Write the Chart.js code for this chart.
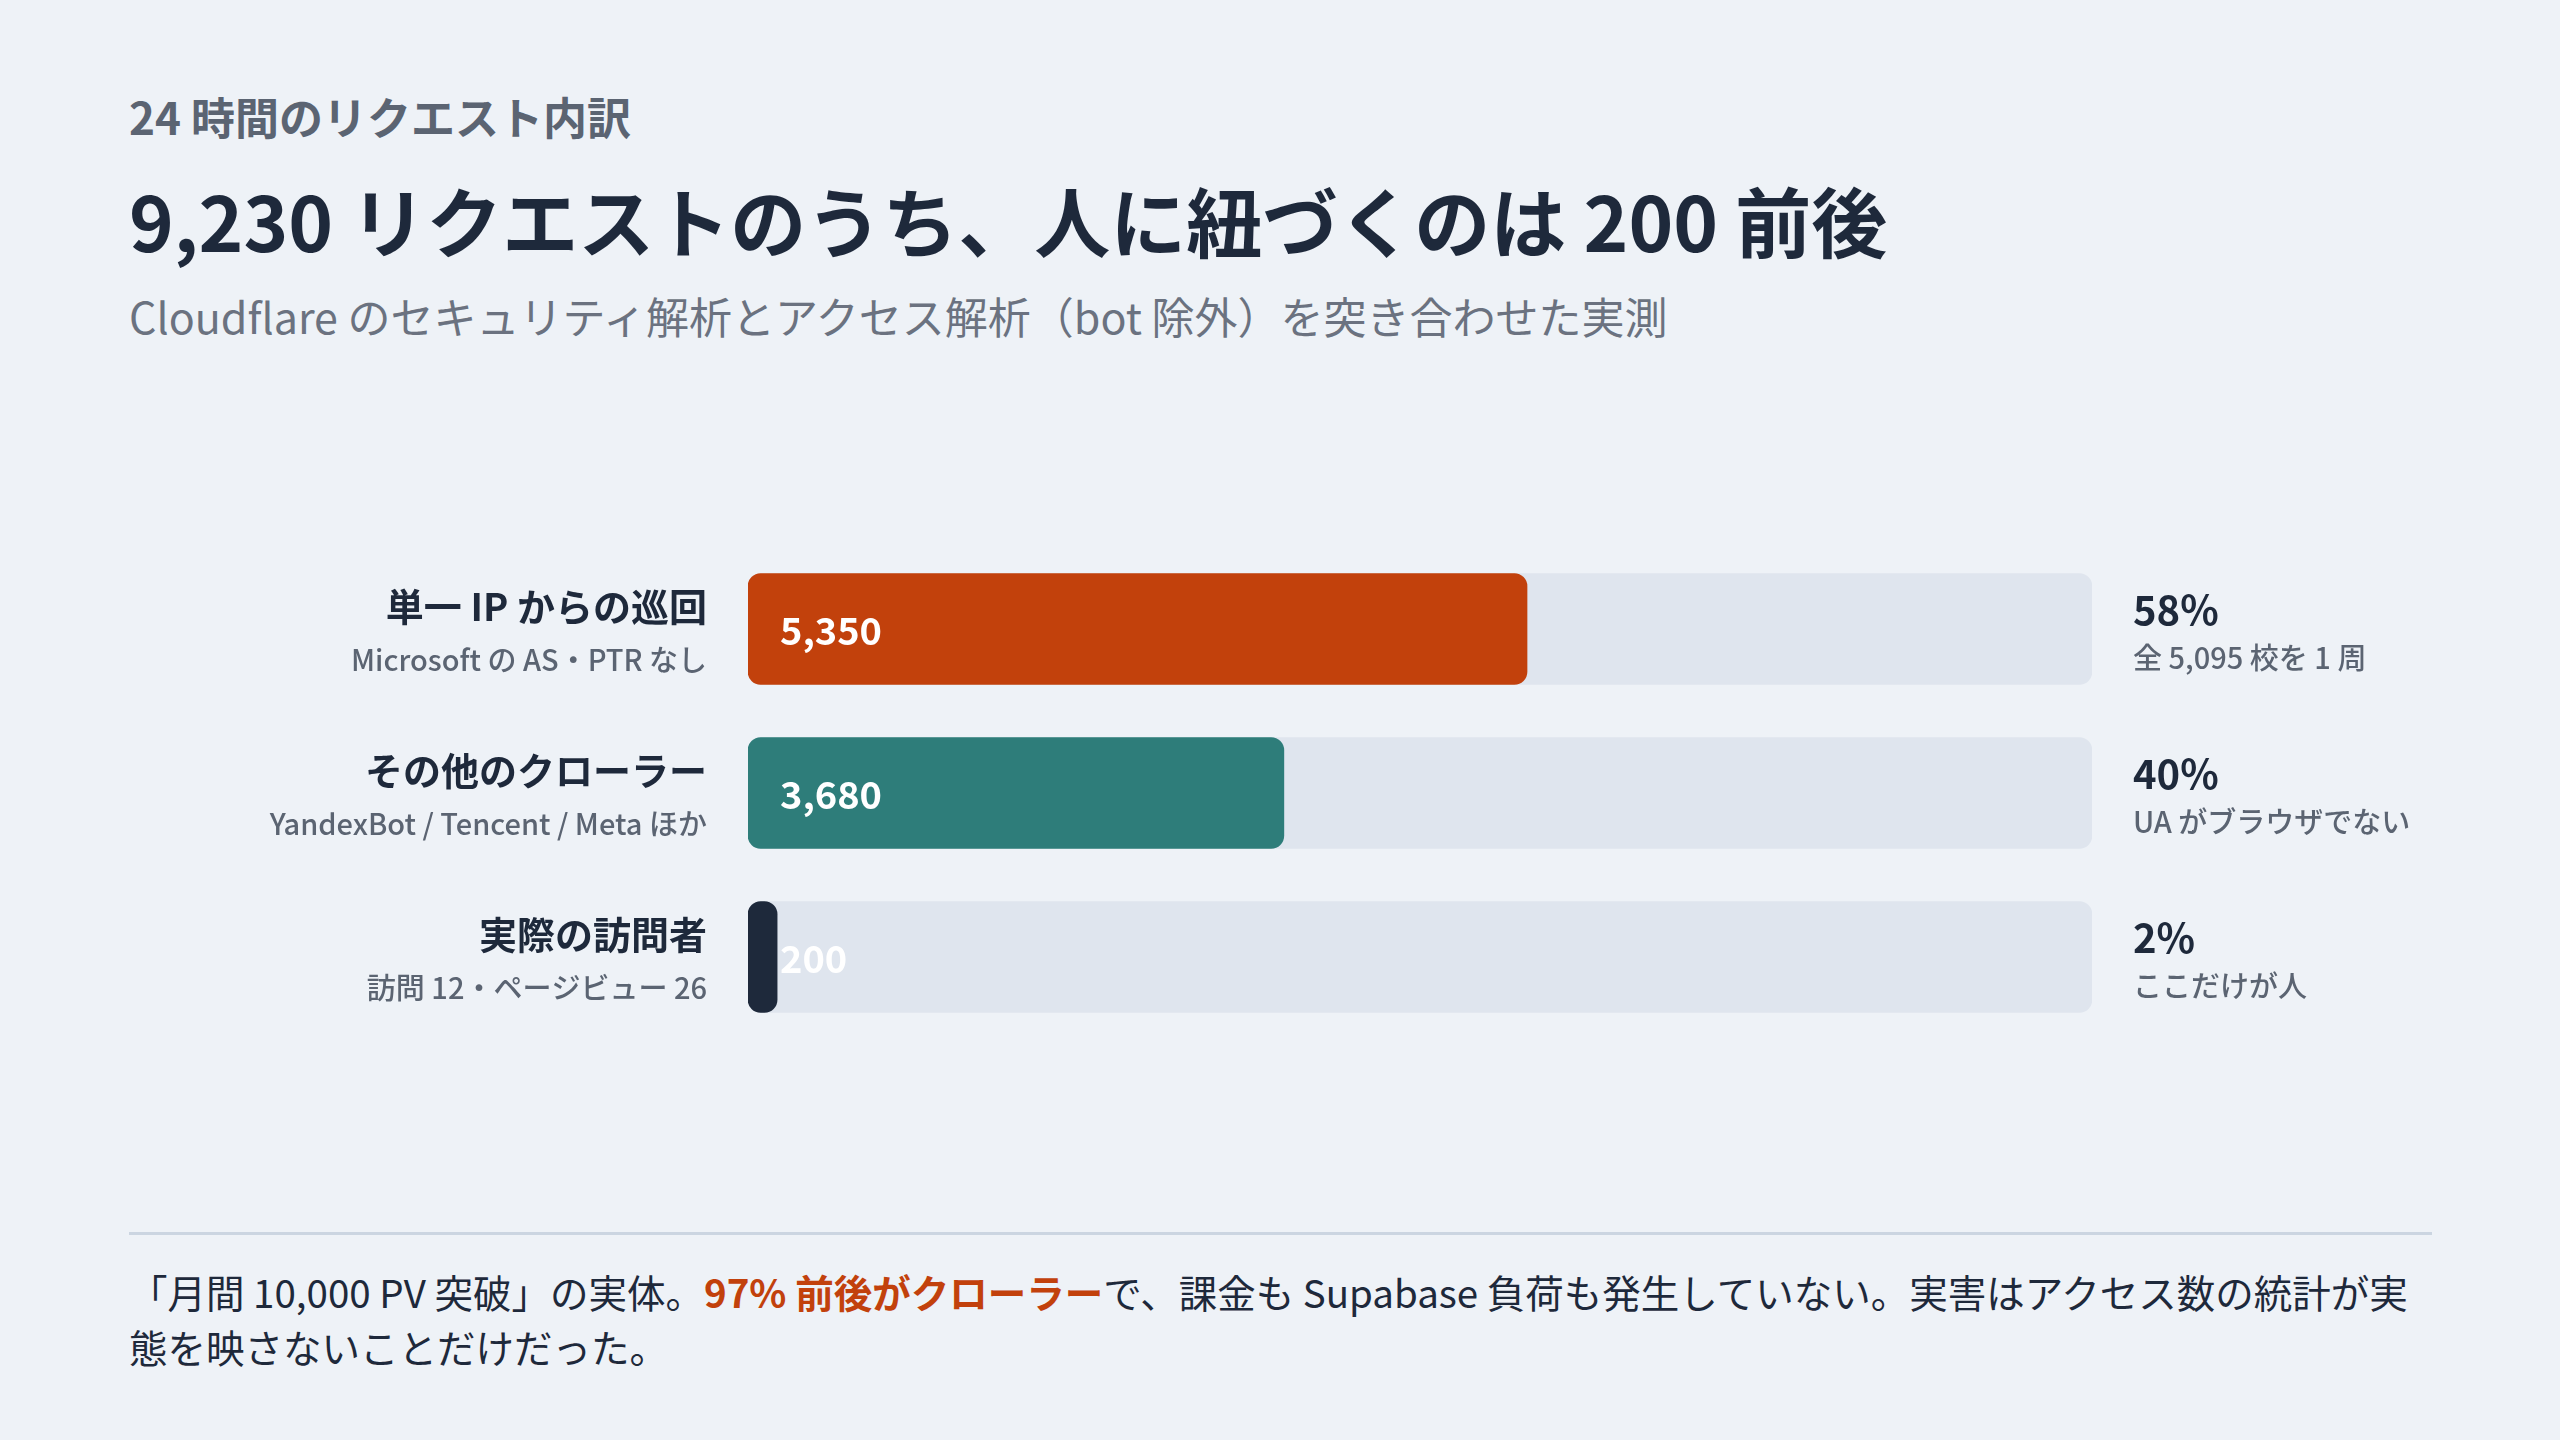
<!DOCTYPE html>
<html><head><meta charset="utf-8">
<script src="https://cdn.jsdelivr.net/npm/chart.js@4"></script>
<style>
body{margin:0;width:2560px;height:1440px;background:#eef2f7;font-family:"Noto Sans CJK JP","Noto Sans",sans-serif;overflow:hidden;position:relative}
.t{position:absolute;left:129px;white-space:nowrap}
#k{top:84px;font-size:44px;color:#5b6472;font-weight:600}
#h{top:164px;font-size:76px;font-weight:700;color:#1e293b}
#s{top:284px;font-size:43px;color:#6b7280}
#line{position:absolute;left:129px;width:2303px;top:1232px;height:3px;background:#cbd5e1}
#f{top:1264px;width:2305px;font-size:38.5px;line-height:55px;color:#1e293b;white-space:normal}
#f b{color:#c2410c}
canvas{position:absolute;left:0;top:0}
</style></head><body>
<div class="t" id="k">24 時間のリクエスト内訳</div>
<div class="t" id="h">9,230 リクエストのうち、人に紐づくのは 200 前後</div>
<div class="t" id="s">Cloudflare のセキュリティ解析とアクセス解析（bot 除外）を突き合わせた実測</div>
<div id="line"></div>
<div class="t" id="f">「月間 10,000 PV 突破」の実体。<b>97% 前後がクローラー</b>で、課金も Supabase 負荷も発生していない。実害はアクセス数の統計が実態を映さないことだけだった。</div>
<canvas id="c" width="2560" height="1440"></canvas>
<script>
const categories=["単一 IP からの巡回","その他のクローラー","実際の訪問者"];
const subLabels=["Microsoft の AS・PTR なし","YandexBot / Tencent / Meta ほか","訪問 12・ページビュー 26"];
const values=[5350,3680,200];
const total=9230;
const shares=["58%","40%","2%"];
const notes=["全 5,095 校を 1 周","UA がブラウザでない","ここだけが人"];
const colors=["#c2410c","#2e7d7a","#1e293b"];
const F='"Noto Sans CJK JP","Noto Sans",sans-serif';
const labels={id:'labels',afterDatasetsDraw(ch){
 const c=ch.ctx,meta=ch.getDatasetMeta(1);
 meta.data.forEach((b,i)=>{
  const y=b.y;c.save();
  c.textBaseline='middle';
  c.fillStyle='#fff';c.font='600 38px '+F;c.textAlign='left';
  c.fillText(values[i].toLocaleString('en-US'),b.base+32,y+2);
  c.textAlign='right';c.fillStyle='#1e293b';c.font='700 38px '+F;
  c.fillText(categories[i],707,y-22);
  c.fillStyle='#5b6472';c.font='500 29px '+F;
  c.fillText(subLabels[i],707,y+31);
  c.textAlign='left';c.fillStyle='#1e293b';c.font='600 40px '+F;
  c.fillText(shares[i],2133,y-19);
  c.fillStyle='#5b6472';c.font='500 29px '+F;
  c.fillText(notes[i],2133,y+29);
  c.restore();});
}};
new Chart(document.getElementById('c'),{type:'bar',
 data:{labels:categories,datasets:[
  {data:values.map(()=>total),backgroundColor:'#dfe5ee',borderRadius:13,borderSkipped:false,barThickness:111,grouped:false,order:2},
  {data:values,backgroundColor:colors,borderRadius:13,borderSkipped:false,barThickness:111,grouped:false,order:1}]},
 options:{indexAxis:'y',responsive:false,animation:false,devicePixelRatio:1,
  layout:{padding:{left:748,right:468,top:547,bottom:401}},
  plugins:{legend:{display:false},tooltip:{enabled:false}},
  scales:{x:{display:false,min:0,max:total},y:{display:false}}},
 plugins:[labels]});
</script></body></html>
